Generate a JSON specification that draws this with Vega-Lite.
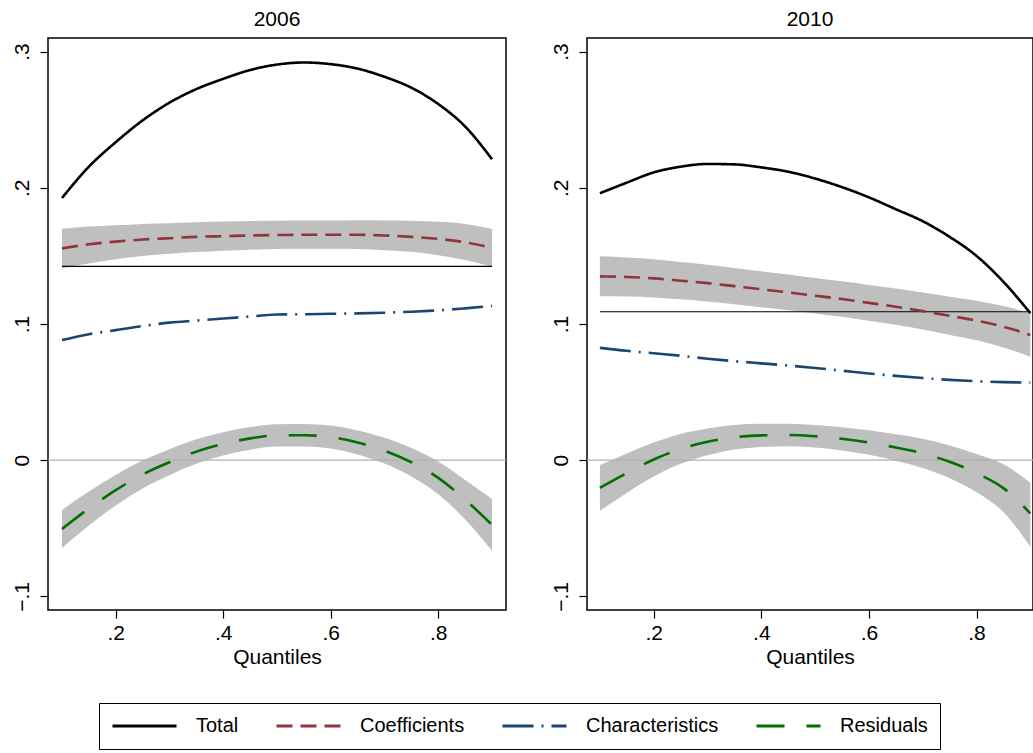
{
  "$schema": "https://vega.github.io/schema/vega-lite/v6.json",
  "padding": {"left": 10, "top": 8, "right": 0, "bottom": 0},
  "background": "white",
  "config": {
    "font": "Liberation Sans",
    "view": {"stroke": "black", "strokeWidth": 1.5},
    "axis": {"grid": false, "domain": false, "tickColor": "black", "tickSize": 8, "tickWidth": 1.2, "labelColor": "black", "labelFontSize": 21, "titleFontSize": 21, "titleFontWeight": "normal", "titleColor": "black"},
    "title": {"fontSize": 21, "fontWeight": "normal", "color": "black", "offset": 8},
    "concat": {"spacing": 41}
  },
  "datasets": {
    "lines": [
      {"year": 2006, "q": 0.10, "component": "Total", "value": 0.1925},
      {"year": 2006, "q": 0.15, "component": "Total", "value": 0.2155},
      {"year": 2006, "q": 0.20, "component": "Total", "value": 0.2335},
      {"year": 2006, "q": 0.25, "component": "Total", "value": 0.2495},
      {"year": 2006, "q": 0.30, "component": "Total", "value": 0.2625},
      {"year": 2006, "q": 0.35, "component": "Total", "value": 0.2725},
      {"year": 2006, "q": 0.40, "component": "Total", "value": 0.2800},
      {"year": 2006, "q": 0.45, "component": "Total", "value": 0.2865},
      {"year": 2006, "q": 0.50, "component": "Total", "value": 0.2905},
      {"year": 2006, "q": 0.55, "component": "Total", "value": 0.2920},
      {"year": 2006, "q": 0.60, "component": "Total", "value": 0.2908},
      {"year": 2006, "q": 0.65, "component": "Total", "value": 0.2875},
      {"year": 2006, "q": 0.70, "component": "Total", "value": 0.2815},
      {"year": 2006, "q": 0.75, "component": "Total", "value": 0.2735},
      {"year": 2006, "q": 0.80, "component": "Total", "value": 0.2615},
      {"year": 2006, "q": 0.85, "component": "Total", "value": 0.2450},
      {"year": 2006, "q": 0.90, "component": "Total", "value": 0.2210},
      {"year": 2006, "q": 0.10, "component": "Coefficients", "value": 0.1555},
      {"year": 2006, "q": 0.15, "component": "Coefficients", "value": 0.1585},
      {"year": 2006, "q": 0.20, "component": "Coefficients", "value": 0.1605},
      {"year": 2006, "q": 0.25, "component": "Coefficients", "value": 0.1620},
      {"year": 2006, "q": 0.30, "component": "Coefficients", "value": 0.1630},
      {"year": 2006, "q": 0.35, "component": "Coefficients", "value": 0.1640},
      {"year": 2006, "q": 0.40, "component": "Coefficients", "value": 0.1645},
      {"year": 2006, "q": 0.45, "component": "Coefficients", "value": 0.1650},
      {"year": 2006, "q": 0.50, "component": "Coefficients", "value": 0.1653},
      {"year": 2006, "q": 0.55, "component": "Coefficients", "value": 0.1655},
      {"year": 2006, "q": 0.60, "component": "Coefficients", "value": 0.1655},
      {"year": 2006, "q": 0.65, "component": "Coefficients", "value": 0.1655},
      {"year": 2006, "q": 0.70, "component": "Coefficients", "value": 0.1650},
      {"year": 2006, "q": 0.75, "component": "Coefficients", "value": 0.1640},
      {"year": 2006, "q": 0.80, "component": "Coefficients", "value": 0.1625},
      {"year": 2006, "q": 0.85, "component": "Coefficients", "value": 0.1600},
      {"year": 2006, "q": 0.90, "component": "Coefficients", "value": 0.1560},
      {"year": 2006, "q": 0.10, "component": "Characteristics", "value": 0.0882},
      {"year": 2006, "q": 0.15, "component": "Characteristics", "value": 0.0925},
      {"year": 2006, "q": 0.20, "component": "Characteristics", "value": 0.0955},
      {"year": 2006, "q": 0.25, "component": "Characteristics", "value": 0.0985},
      {"year": 2006, "q": 0.30, "component": "Characteristics", "value": 0.1010},
      {"year": 2006, "q": 0.35, "component": "Characteristics", "value": 0.1025},
      {"year": 2006, "q": 0.40, "component": "Characteristics", "value": 0.1040},
      {"year": 2006, "q": 0.45, "component": "Characteristics", "value": 0.1055},
      {"year": 2006, "q": 0.50, "component": "Characteristics", "value": 0.1070},
      {"year": 2006, "q": 0.55, "component": "Characteristics", "value": 0.1072},
      {"year": 2006, "q": 0.60, "component": "Characteristics", "value": 0.1075},
      {"year": 2006, "q": 0.65, "component": "Characteristics", "value": 0.1078},
      {"year": 2006, "q": 0.70, "component": "Characteristics", "value": 0.1083},
      {"year": 2006, "q": 0.75, "component": "Characteristics", "value": 0.1090},
      {"year": 2006, "q": 0.80, "component": "Characteristics", "value": 0.1100},
      {"year": 2006, "q": 0.85, "component": "Characteristics", "value": 0.1115},
      {"year": 2006, "q": 0.90, "component": "Characteristics", "value": 0.1132},
      {"year": 2006, "q": 0.10, "component": "Residuals", "value": -0.0505},
      {"year": 2006, "q": 0.15, "component": "Residuals", "value": -0.0355},
      {"year": 2006, "q": 0.20, "component": "Residuals", "value": -0.0220},
      {"year": 2006, "q": 0.25, "component": "Residuals", "value": -0.0105},
      {"year": 2006, "q": 0.30, "component": "Residuals", "value": -0.0015},
      {"year": 2006, "q": 0.35, "component": "Residuals", "value": 0.0063},
      {"year": 2006, "q": 0.40, "component": "Residuals", "value": 0.0120},
      {"year": 2006, "q": 0.45, "component": "Residuals", "value": 0.0160},
      {"year": 2006, "q": 0.50, "component": "Residuals", "value": 0.0182},
      {"year": 2006, "q": 0.55, "component": "Residuals", "value": 0.0183},
      {"year": 2006, "q": 0.60, "component": "Residuals", "value": 0.0170},
      {"year": 2006, "q": 0.65, "component": "Residuals", "value": 0.0130},
      {"year": 2006, "q": 0.70, "component": "Residuals", "value": 0.0070},
      {"year": 2006, "q": 0.75, "component": "Residuals", "value": -0.0015},
      {"year": 2006, "q": 0.80, "component": "Residuals", "value": -0.0130},
      {"year": 2006, "q": 0.85, "component": "Residuals", "value": -0.0290},
      {"year": 2006, "q": 0.90, "component": "Residuals", "value": -0.0475},
      {"year": 2010, "q": 0.10, "component": "Total", "value": 0.1960},
      {"year": 2010, "q": 0.15, "component": "Total", "value": 0.2038},
      {"year": 2010, "q": 0.20, "component": "Total", "value": 0.2113},
      {"year": 2010, "q": 0.25, "component": "Total", "value": 0.2155},
      {"year": 2010, "q": 0.30, "component": "Total", "value": 0.2175},
      {"year": 2010, "q": 0.35, "component": "Total", "value": 0.2172},
      {"year": 2010, "q": 0.40, "component": "Total", "value": 0.2150},
      {"year": 2010, "q": 0.45, "component": "Total", "value": 0.2118},
      {"year": 2010, "q": 0.50, "component": "Total", "value": 0.2068},
      {"year": 2010, "q": 0.55, "component": "Total", "value": 0.2005},
      {"year": 2010, "q": 0.60, "component": "Total", "value": 0.1930},
      {"year": 2010, "q": 0.65, "component": "Total", "value": 0.1843},
      {"year": 2010, "q": 0.70, "component": "Total", "value": 0.1755},
      {"year": 2010, "q": 0.75, "component": "Total", "value": 0.1640},
      {"year": 2010, "q": 0.80, "component": "Total", "value": 0.1500},
      {"year": 2010, "q": 0.85, "component": "Total", "value": 0.1310},
      {"year": 2010, "q": 0.90, "component": "Total", "value": 0.1080},
      {"year": 2010, "q": 0.10, "component": "Coefficients", "value": 0.1350},
      {"year": 2010, "q": 0.15, "component": "Coefficients", "value": 0.1345},
      {"year": 2010, "q": 0.20, "component": "Coefficients", "value": 0.1335},
      {"year": 2010, "q": 0.25, "component": "Coefficients", "value": 0.1318},
      {"year": 2010, "q": 0.30, "component": "Coefficients", "value": 0.1300},
      {"year": 2010, "q": 0.35, "component": "Coefficients", "value": 0.1278},
      {"year": 2010, "q": 0.40, "component": "Coefficients", "value": 0.1255},
      {"year": 2010, "q": 0.45, "component": "Coefficients", "value": 0.1232},
      {"year": 2010, "q": 0.50, "component": "Coefficients", "value": 0.1208},
      {"year": 2010, "q": 0.55, "component": "Coefficients", "value": 0.1183},
      {"year": 2010, "q": 0.60, "component": "Coefficients", "value": 0.1155},
      {"year": 2010, "q": 0.65, "component": "Coefficients", "value": 0.1127},
      {"year": 2010, "q": 0.70, "component": "Coefficients", "value": 0.1095},
      {"year": 2010, "q": 0.75, "component": "Coefficients", "value": 0.1060},
      {"year": 2010, "q": 0.80, "component": "Coefficients", "value": 0.1025},
      {"year": 2010, "q": 0.85, "component": "Coefficients", "value": 0.0980},
      {"year": 2010, "q": 0.90, "component": "Coefficients", "value": 0.0920},
      {"year": 2010, "q": 0.10, "component": "Characteristics", "value": 0.0825},
      {"year": 2010, "q": 0.15, "component": "Characteristics", "value": 0.0803},
      {"year": 2010, "q": 0.20, "component": "Characteristics", "value": 0.0785},
      {"year": 2010, "q": 0.25, "component": "Characteristics", "value": 0.0767},
      {"year": 2010, "q": 0.30, "component": "Characteristics", "value": 0.0745},
      {"year": 2010, "q": 0.35, "component": "Characteristics", "value": 0.0727},
      {"year": 2010, "q": 0.40, "component": "Characteristics", "value": 0.0711},
      {"year": 2010, "q": 0.45, "component": "Characteristics", "value": 0.0695},
      {"year": 2010, "q": 0.50, "component": "Characteristics", "value": 0.0677},
      {"year": 2010, "q": 0.55, "component": "Characteristics", "value": 0.0657},
      {"year": 2010, "q": 0.60, "component": "Characteristics", "value": 0.0637},
      {"year": 2010, "q": 0.65, "component": "Characteristics", "value": 0.0619},
      {"year": 2010, "q": 0.70, "component": "Characteristics", "value": 0.0603},
      {"year": 2010, "q": 0.75, "component": "Characteristics", "value": 0.0590},
      {"year": 2010, "q": 0.80, "component": "Characteristics", "value": 0.0580},
      {"year": 2010, "q": 0.85, "component": "Characteristics", "value": 0.0573},
      {"year": 2010, "q": 0.90, "component": "Characteristics", "value": 0.0570},
      {"year": 2010, "q": 0.10, "component": "Residuals", "value": -0.0203},
      {"year": 2010, "q": 0.15, "component": "Residuals", "value": -0.0095},
      {"year": 2010, "q": 0.20, "component": "Residuals", "value": 0.0005},
      {"year": 2010, "q": 0.25, "component": "Residuals", "value": 0.0083},
      {"year": 2010, "q": 0.30, "component": "Residuals", "value": 0.0135},
      {"year": 2010, "q": 0.35, "component": "Residuals", "value": 0.0168},
      {"year": 2010, "q": 0.40, "component": "Residuals", "value": 0.0182},
      {"year": 2010, "q": 0.45, "component": "Residuals", "value": 0.0185},
      {"year": 2010, "q": 0.50, "component": "Residuals", "value": 0.0176},
      {"year": 2010, "q": 0.55, "component": "Residuals", "value": 0.0157},
      {"year": 2010, "q": 0.60, "component": "Residuals", "value": 0.0130},
      {"year": 2010, "q": 0.65, "component": "Residuals", "value": 0.0093},
      {"year": 2010, "q": 0.70, "component": "Residuals", "value": 0.0050},
      {"year": 2010, "q": 0.75, "component": "Residuals", "value": -0.0012},
      {"year": 2010, "q": 0.80, "component": "Residuals", "value": -0.0095},
      {"year": 2010, "q": 0.85, "component": "Residuals", "value": -0.0205},
      {"year": 2010, "q": 0.90, "component": "Residuals", "value": -0.0390}
    ],
    "bands": [
      {"year": 2006, "q": 0.10, "band": "Coefficients", "lo": 0.1410, "hi": 0.1700},
      {"year": 2006, "q": 0.15, "band": "Coefficients", "lo": 0.1445, "hi": 0.1715},
      {"year": 2006, "q": 0.20, "band": "Coefficients", "lo": 0.1475, "hi": 0.1725},
      {"year": 2006, "q": 0.25, "band": "Coefficients", "lo": 0.1500, "hi": 0.1735},
      {"year": 2006, "q": 0.30, "band": "Coefficients", "lo": 0.1515, "hi": 0.1740},
      {"year": 2006, "q": 0.35, "band": "Coefficients", "lo": 0.1528, "hi": 0.1748},
      {"year": 2006, "q": 0.40, "band": "Coefficients", "lo": 0.1538, "hi": 0.1752},
      {"year": 2006, "q": 0.45, "band": "Coefficients", "lo": 0.1545, "hi": 0.1756},
      {"year": 2006, "q": 0.50, "band": "Coefficients", "lo": 0.1550, "hi": 0.1758},
      {"year": 2006, "q": 0.55, "band": "Coefficients", "lo": 0.1552, "hi": 0.1760},
      {"year": 2006, "q": 0.60, "band": "Coefficients", "lo": 0.1552, "hi": 0.1760},
      {"year": 2006, "q": 0.65, "band": "Coefficients", "lo": 0.1550, "hi": 0.1762},
      {"year": 2006, "q": 0.70, "band": "Coefficients", "lo": 0.1542, "hi": 0.1760},
      {"year": 2006, "q": 0.75, "band": "Coefficients", "lo": 0.1530, "hi": 0.1758},
      {"year": 2006, "q": 0.80, "band": "Coefficients", "lo": 0.1505, "hi": 0.1750},
      {"year": 2006, "q": 0.85, "band": "Coefficients", "lo": 0.1470, "hi": 0.1735},
      {"year": 2006, "q": 0.90, "band": "Coefficients", "lo": 0.1420, "hi": 0.1698},
      {"year": 2006, "q": 0.10, "band": "Residuals", "lo": -0.0645, "hi": -0.0365},
      {"year": 2006, "q": 0.15, "band": "Residuals", "lo": -0.0480, "hi": -0.0230},
      {"year": 2006, "q": 0.20, "band": "Residuals", "lo": -0.0332, "hi": -0.0108},
      {"year": 2006, "q": 0.25, "band": "Residuals", "lo": -0.0207, "hi": -0.0003},
      {"year": 2006, "q": 0.30, "band": "Residuals", "lo": -0.0110, "hi": 0.0080},
      {"year": 2006, "q": 0.35, "band": "Residuals", "lo": -0.0027, "hi": 0.0153},
      {"year": 2006, "q": 0.40, "band": "Residuals", "lo": 0.0034, "hi": 0.0206},
      {"year": 2006, "q": 0.45, "band": "Residuals", "lo": 0.0077, "hi": 0.0243},
      {"year": 2006, "q": 0.50, "band": "Residuals", "lo": 0.0100, "hi": 0.0264},
      {"year": 2006, "q": 0.55, "band": "Residuals", "lo": 0.0101, "hi": 0.0265},
      {"year": 2006, "q": 0.60, "band": "Residuals", "lo": 0.0086, "hi": 0.0254},
      {"year": 2006, "q": 0.65, "band": "Residuals", "lo": 0.0042, "hi": 0.0218},
      {"year": 2006, "q": 0.70, "band": "Residuals", "lo": -0.0025, "hi": 0.0165},
      {"year": 2006, "q": 0.75, "band": "Residuals", "lo": -0.0120, "hi": 0.0090},
      {"year": 2006, "q": 0.80, "band": "Residuals", "lo": -0.0250, "hi": -0.0010},
      {"year": 2006, "q": 0.85, "band": "Residuals", "lo": -0.0435, "hi": -0.0145},
      {"year": 2006, "q": 0.90, "band": "Residuals", "lo": -0.0665, "hi": -0.0285},
      {"year": 2010, "q": 0.10, "band": "Coefficients", "lo": 0.1203, "hi": 0.1497},
      {"year": 2010, "q": 0.15, "band": "Coefficients", "lo": 0.1202, "hi": 0.1488},
      {"year": 2010, "q": 0.20, "band": "Coefficients", "lo": 0.1195, "hi": 0.1475},
      {"year": 2010, "q": 0.25, "band": "Coefficients", "lo": 0.1181, "hi": 0.1455},
      {"year": 2010, "q": 0.30, "band": "Coefficients", "lo": 0.1165, "hi": 0.1435},
      {"year": 2010, "q": 0.35, "band": "Coefficients", "lo": 0.1145, "hi": 0.1411},
      {"year": 2010, "q": 0.40, "band": "Coefficients", "lo": 0.1123, "hi": 0.1387},
      {"year": 2010, "q": 0.45, "band": "Coefficients", "lo": 0.1101, "hi": 0.1363},
      {"year": 2010, "q": 0.50, "band": "Coefficients", "lo": 0.1078, "hi": 0.1338},
      {"year": 2010, "q": 0.55, "band": "Coefficients", "lo": 0.1053, "hi": 0.1313},
      {"year": 2010, "q": 0.60, "band": "Coefficients", "lo": 0.1024, "hi": 0.1286},
      {"year": 2010, "q": 0.65, "band": "Coefficients", "lo": 0.0994, "hi": 0.1260},
      {"year": 2010, "q": 0.70, "band": "Coefficients", "lo": 0.0959, "hi": 0.1231},
      {"year": 2010, "q": 0.75, "band": "Coefficients", "lo": 0.0920, "hi": 0.1200},
      {"year": 2010, "q": 0.80, "band": "Coefficients", "lo": 0.0880, "hi": 0.1170},
      {"year": 2010, "q": 0.85, "band": "Coefficients", "lo": 0.0828, "hi": 0.1132},
      {"year": 2010, "q": 0.90, "band": "Coefficients", "lo": 0.0760, "hi": 0.1080},
      {"year": 2010, "q": 0.10, "band": "Residuals", "lo": -0.0370, "hi": -0.0036},
      {"year": 2010, "q": 0.15, "band": "Residuals", "lo": -0.0240, "hi": 0.0050},
      {"year": 2010, "q": 0.20, "band": "Residuals", "lo": -0.0120, "hi": 0.0130},
      {"year": 2010, "q": 0.25, "band": "Residuals", "lo": -0.0027, "hi": 0.0193},
      {"year": 2010, "q": 0.30, "band": "Residuals", "lo": 0.0037, "hi": 0.0233},
      {"year": 2010, "q": 0.35, "band": "Residuals", "lo": 0.0078, "hi": 0.0258},
      {"year": 2010, "q": 0.40, "band": "Residuals", "lo": 0.0097, "hi": 0.0267},
      {"year": 2010, "q": 0.45, "band": "Residuals", "lo": 0.0102, "hi": 0.0268},
      {"year": 2010, "q": 0.50, "band": "Residuals", "lo": 0.0093, "hi": 0.0259},
      {"year": 2010, "q": 0.55, "band": "Residuals", "lo": 0.0072, "hi": 0.0242},
      {"year": 2010, "q": 0.60, "band": "Residuals", "lo": 0.0040, "hi": 0.0220},
      {"year": 2010, "q": 0.65, "band": "Residuals", "lo": -0.0004, "hi": 0.0190},
      {"year": 2010, "q": 0.70, "band": "Residuals", "lo": -0.0057, "hi": 0.0157},
      {"year": 2010, "q": 0.75, "band": "Residuals", "lo": -0.0132, "hi": 0.0108},
      {"year": 2010, "q": 0.80, "band": "Residuals", "lo": -0.0235, "hi": 0.0045},
      {"year": 2010, "q": 0.85, "band": "Residuals", "lo": -0.0380, "hi": -0.0030},
      {"year": 2010, "q": 0.90, "band": "Residuals", "lo": -0.0635, "hi": -0.0165}
    ],
    "means": [
      {"year": 2006, "q0": 0.1, "q1": 0.9, "value": 0.1423},
      {"year": 2010, "q0": 0.1, "q1": 0.9, "value": 0.109}
    ]
  },
  "hconcat": [
    {
      "width": 458,
      "height": 572,
      "title": {"text": "2006"},
      "layer": [
        {
          "data": {"name": "bands"},
          "transform": [{"filter": "datum.year == 2006"}],
          "mark": {"type": "area", "color": "#bfbfbf", "opacity": 1, "interpolate": "monotone"},
          "encoding": {
            "x": {"field": "q", "type": "quantitative", "scale": {"domain": [0.074, 0.926], "nice": false, "zero": false},
              "axis": {"values": [0.2, 0.4, 0.6, 0.8], "title": "Quantiles", "labelExpr": "replace(format(datum.value, '.1f'), '0.', '.')", "labelPadding": 4, "titlePadding": 3}},
            "y": {"field": "lo", "type": "quantitative", "scale": {"domain": [-0.11, 0.31], "nice": false, "zero": false},
              "axis": {"values": [-0.1, 0, 0.1, 0.2, 0.3], "title": null, "labelAngle": -90, "labelAlign": "center", "labelBaseline": "bottom", "labelPadding": 8, "labelExpr": "datum.value == 0 ? '0' : replace(format(datum.value, '.1f'), '0.', '.')"}},
            "y2": {"field": "hi"},
            "detail": {"field": "band"}
          }
        },
        {
          "data": {"name": "means"},
          "transform": [{"filter": "datum.year == 2006"}],
          "mark": {"type": "rule", "color": "#b0b0b0", "strokeWidth": 1.3},
          "encoding": {"y": {"datum": 0, "scale": {"domain": [-0.11, 0.31], "nice": false, "zero": false}}}
        },
        {
          "data": {"name": "means"},
          "transform": [{"filter": "datum.year == 2006"}],
          "mark": {"type": "rule", "color": "black", "strokeWidth": 1.2},
          "encoding": {
            "x": {"field": "q0", "type": "quantitative", "scale": {"domain": [0.074, 0.926], "nice": false, "zero": false}},
            "x2": {"field": "q1"},
            "y": {"field": "value", "type": "quantitative", "scale": {"domain": [-0.11, 0.31], "nice": false, "zero": false}}
          }
        },
        {
          "data": {"name": "lines"},
          "transform": [{"filter": "datum.year == 2006"}],
          "mark": {"type": "line", "strokeWidth": 2.6, "interpolate": "monotone"},
          "encoding": {
            "x": {"field": "q", "type": "quantitative", "scale": {"domain": [0.074, 0.926], "nice": false, "zero": false}},
            "y": {"field": "value", "type": "quantitative", "scale": {"domain": [-0.11, 0.31], "nice": false, "zero": false}},
            "color": {"field": "component", "type": "nominal",
              "scale": {"domain": ["Total", "Coefficients", "Characteristics", "Residuals"], "range": ["#000000", "#90353b", "#1a476f", "#007000"]},
              "legend": {"orient": "none", "legendX": 51, "legendY": 665, "direction": "horizontal", "columns": 4, "gridAlign": "each", "title": null, "symbolType": "stroke", "symbolSize": 4096, "clipHeight": 22, "symbolStrokeWidth": 3, "labelFontSize": 20, "labelColor": "black", "labelOffset": 18, "columnPadding": 36, "padding": 12, "strokeColor": "black", "labelLimit": 300}},
            "strokeDash": {"field": "component", "type": "nominal",
              "scale": {"domain": ["Total", "Coefficients", "Characteristics", "Residuals"], "range": [[1, 0], [16, 8], [31, 8, 2, 8], [28, 22]]},
              "legend": {"orient": "none", "legendX": 51, "legendY": 665, "direction": "horizontal", "columns": 4, "gridAlign": "each", "title": null, "symbolType": "stroke", "symbolSize": 4096, "clipHeight": 22, "symbolStrokeWidth": 3, "labelFontSize": 20, "labelColor": "black", "labelOffset": 18, "columnPadding": 36, "padding": 12, "strokeColor": "black", "labelLimit": 300}},
            "order": {"field": "q", "type": "quantitative"}
          }
        }
      ]
    },
    {
      "width": 446,
      "height": 572,
      "title": {"text": "2010"},
      "layer": [
        {
          "data": {"name": "bands"},
          "transform": [{"filter": "datum.year == 2010"}],
          "mark": {"type": "area", "color": "#bfbfbf", "opacity": 1, "interpolate": "monotone"},
          "encoding": {
            "x": {"field": "q", "type": "quantitative", "scale": {"domain": [0.076, 0.905], "nice": false, "zero": false},
              "axis": {"values": [0.2, 0.4, 0.6, 0.8], "title": "Quantiles", "labelExpr": "replace(format(datum.value, '.1f'), '0.', '.')", "labelPadding": 4, "titlePadding": 3}},
            "y": {"field": "lo", "type": "quantitative", "scale": {"domain": [-0.11, 0.31], "nice": false, "zero": false},
              "axis": {"values": [-0.1, 0, 0.1, 0.2, 0.3], "title": null, "labelAngle": -90, "labelAlign": "center", "labelBaseline": "bottom", "labelPadding": 8, "labelExpr": "datum.value == 0 ? '0' : replace(format(datum.value, '.1f'), '0.', '.')"}},
            "y2": {"field": "hi"},
            "detail": {"field": "band"}
          }
        },
        {
          "data": {"name": "means"},
          "transform": [{"filter": "datum.year == 2010"}],
          "mark": {"type": "rule", "color": "#b0b0b0", "strokeWidth": 1.3},
          "encoding": {"y": {"datum": 0, "scale": {"domain": [-0.11, 0.31], "nice": false, "zero": false}}}
        },
        {
          "data": {"name": "means"},
          "transform": [{"filter": "datum.year == 2010"}],
          "mark": {"type": "rule", "color": "black", "strokeWidth": 1.2},
          "encoding": {
            "x": {"field": "q0", "type": "quantitative", "scale": {"domain": [0.076, 0.905], "nice": false, "zero": false}},
            "x2": {"field": "q1"},
            "y": {"field": "value", "type": "quantitative", "scale": {"domain": [-0.11, 0.31], "nice": false, "zero": false}}
          }
        },
        {
          "data": {"name": "lines"},
          "transform": [{"filter": "datum.year == 2010"}],
          "mark": {"type": "line", "strokeWidth": 2.6, "interpolate": "monotone", "clip": true},
          "encoding": {
            "x": {"field": "q", "type": "quantitative", "scale": {"domain": [0.076, 0.905], "nice": false, "zero": false}},
            "y": {"field": "value", "type": "quantitative", "scale": {"domain": [-0.11, 0.31], "nice": false, "zero": false}},
            "color": {"field": "component", "type": "nominal",
              "scale": {"domain": ["Total", "Coefficients", "Characteristics", "Residuals"], "range": ["#000000", "#90353b", "#1a476f", "#007000"]}},
            "strokeDash": {"field": "component", "type": "nominal",
              "scale": {"domain": ["Total", "Coefficients", "Characteristics", "Residuals"], "range": [[1, 0], [16, 8], [31, 8, 2, 8], [28, 22]]}},
            "order": {"field": "q", "type": "quantitative"}
          }
        }
      ]
    }
  ]
}
